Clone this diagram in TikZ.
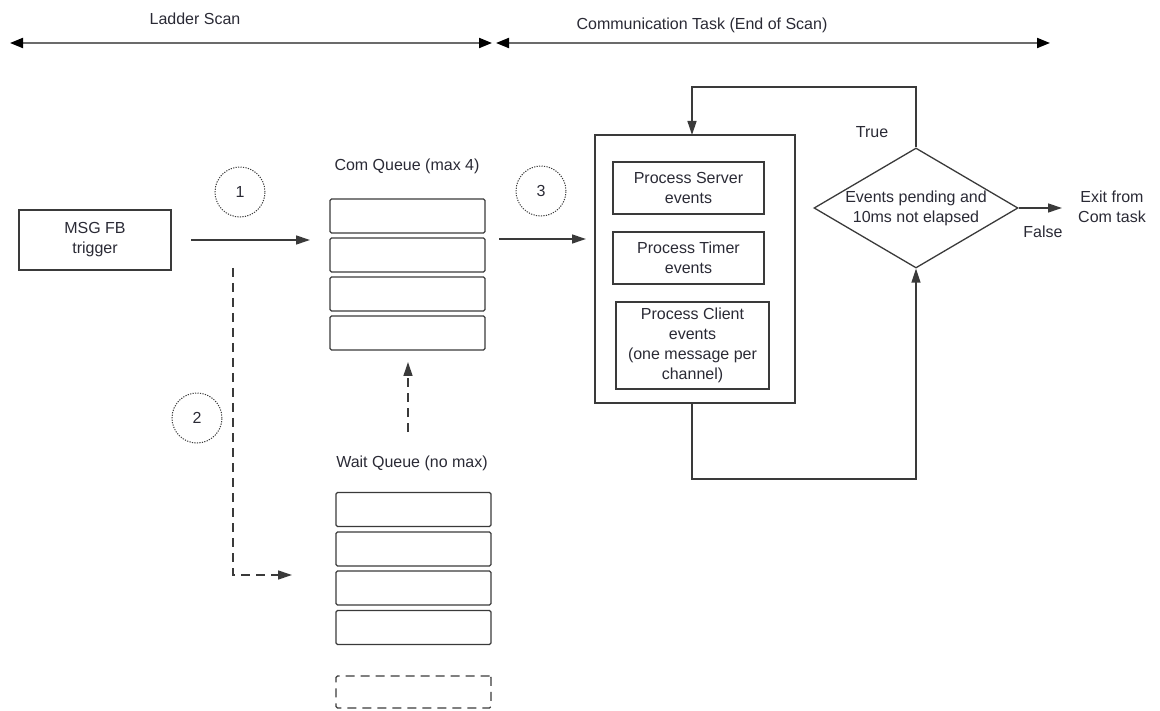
\documentclass[tikz,border=0pt]{standalone}
\usepackage{fontspec}
\setmainfont{Liberation Sans}
\usetikzlibrary{arrows.meta,shapes.geometric}
\definecolor{ln}{HTML}{3A3A3A}
\definecolor{tx}{HTML}{2A2A35}
\begin{document}
\begin{tikzpicture}[x=1pt,y=-1pt,
  font=\fontsize{16}{20}\selectfont, text=tx,
  box/.style={draw=ln,line width=1.3pt,rectangle,inner sep=0pt,align=center},
  qbox/.style={box,rounded corners=1.5pt,minimum width=155pt,minimum height=34pt},
  num/.style={draw=ln,dash pattern=on 1.2pt off 1.3pt,line width=1pt,circle,minimum size=50pt,inner sep=0pt},
  lbl/.style={inner sep=0pt,align=center},
  arr/.style={draw=ln,line width=1.3pt,-{Triangle[length=14pt,width=9pt]}},
  darr/.style={arr,dash pattern=on 9pt off 6pt},
  span/.style={draw=ln!75,line width=2pt,{Triangle[length=13pt,width=10pt,fill=black,color=black]}-{Triangle[length=13pt,width=10pt,fill=black,color=black]}}
]
\useasboundingbox (0,0) rectangle (1160,711);
% top spans
\coordinate (l1) at (10,43); \coordinate (l2) at (492,43);
\coordinate (c1) at (496,43); \coordinate (c2) at (1050,43);
\draw[span] (l1) -- (l2);
\draw[span] (c1) -- (c2);
\node[lbl] (tladder) at (195,19) {Ladder Scan};
\node[lbl] (tcomm) at (702,25) {Communication Task (End of Scan)};
% MSG FB
\node[box,minimum width=152pt,minimum height=60pt] (msg) at (95,240) {MSG FB\\trigger};
\node[num] (n1) at (240,192) {1};
\coordinate (a1s) at (191,240); \coordinate (a1e) at (310,240);
\draw[arr] (a1s) -- (a1e);
% com queue
\node[lbl] (cqlbl) at (407,166) {Com Queue (max 4)};
\node[qbox] (cq1) at (407.5,216) {};
\node[qbox] (cq2) at (407.5,255) {};
\node[qbox] (cq3) at (407.5,294) {};
\node[qbox] (cq4) at (407.5,333) {};
\node[num] (n3) at (541,191) {3};
% process box
\node[box,minimum width=200pt,minimum height=268pt] (proc) at (695,269) {};
\node[box,minimum width=151pt,minimum height=52pt] (srv) at (688.5,188) {Process Server\\events};
\node[box,minimum width=151pt,minimum height=52pt] (tmr) at (688.5,258) {Process Timer\\events};
\node[box,minimum width=153pt,minimum height=87pt] (cli) at (692.5,345.5) {Process Client\\events\\(one message per\\channel)};
\coordinate (a3s) at (499,239);
\draw[arr] (a3s) -- (586,239);
% diamond
\node[draw=ln,line width=1.3pt,diamond,minimum width=204pt,minimum height=120pt,inner sep=0pt] (dia) at (916,208) {};
\node[lbl] (diatxt) at (916,208) {Events pending and\\10ms not elapsed};
\node[lbl] (ttrue) at (872,132) {True};
\node[lbl] (tfalse) at (1043,232) {False};
\node[lbl] (texit) at (1112,207) {Exit from\\Com task};
\coordinate (exitend) at (1062,208);
\draw[arr] (dia.east) -- (exitend);
% loops
\coordinate (ptop) at (692,135);
\coordinate (pbot) at (692,403);
\draw[arr] (dia.north) -- (916,87) -- (692,87) -- (ptop);
\draw[arr] (pbot) -- (692,479) -- (916,479) -- (dia.south);
% dashed path 2
\node[num] (n2) at (197,418) {2};
\coordinate (d2s) at (233,268); \coordinate (d2e) at (292,575);
\draw[darr] (d2s) |- (d2e);
% wait queue
\node[lbl] (wqlbl) at (412,463) {Wait Queue (no max)};
\node[qbox] (wq1) at (413.5,509.5) {};
\node[qbox] (wq2) at (413.5,549) {};
\node[qbox] (wq3) at (413.5,588) {};
\node[qbox] (wq4) at (413.5,627.5) {};
\node[qbox,dash pattern=on 9pt off 6pt,minimum height=32pt] (wq5) at (413.5,692) {};
\coordinate (upS) at (408,432); \coordinate (upE) at (408,362);
\draw[darr] (upS) -- (upE);
\end{tikzpicture}
\end{document}
